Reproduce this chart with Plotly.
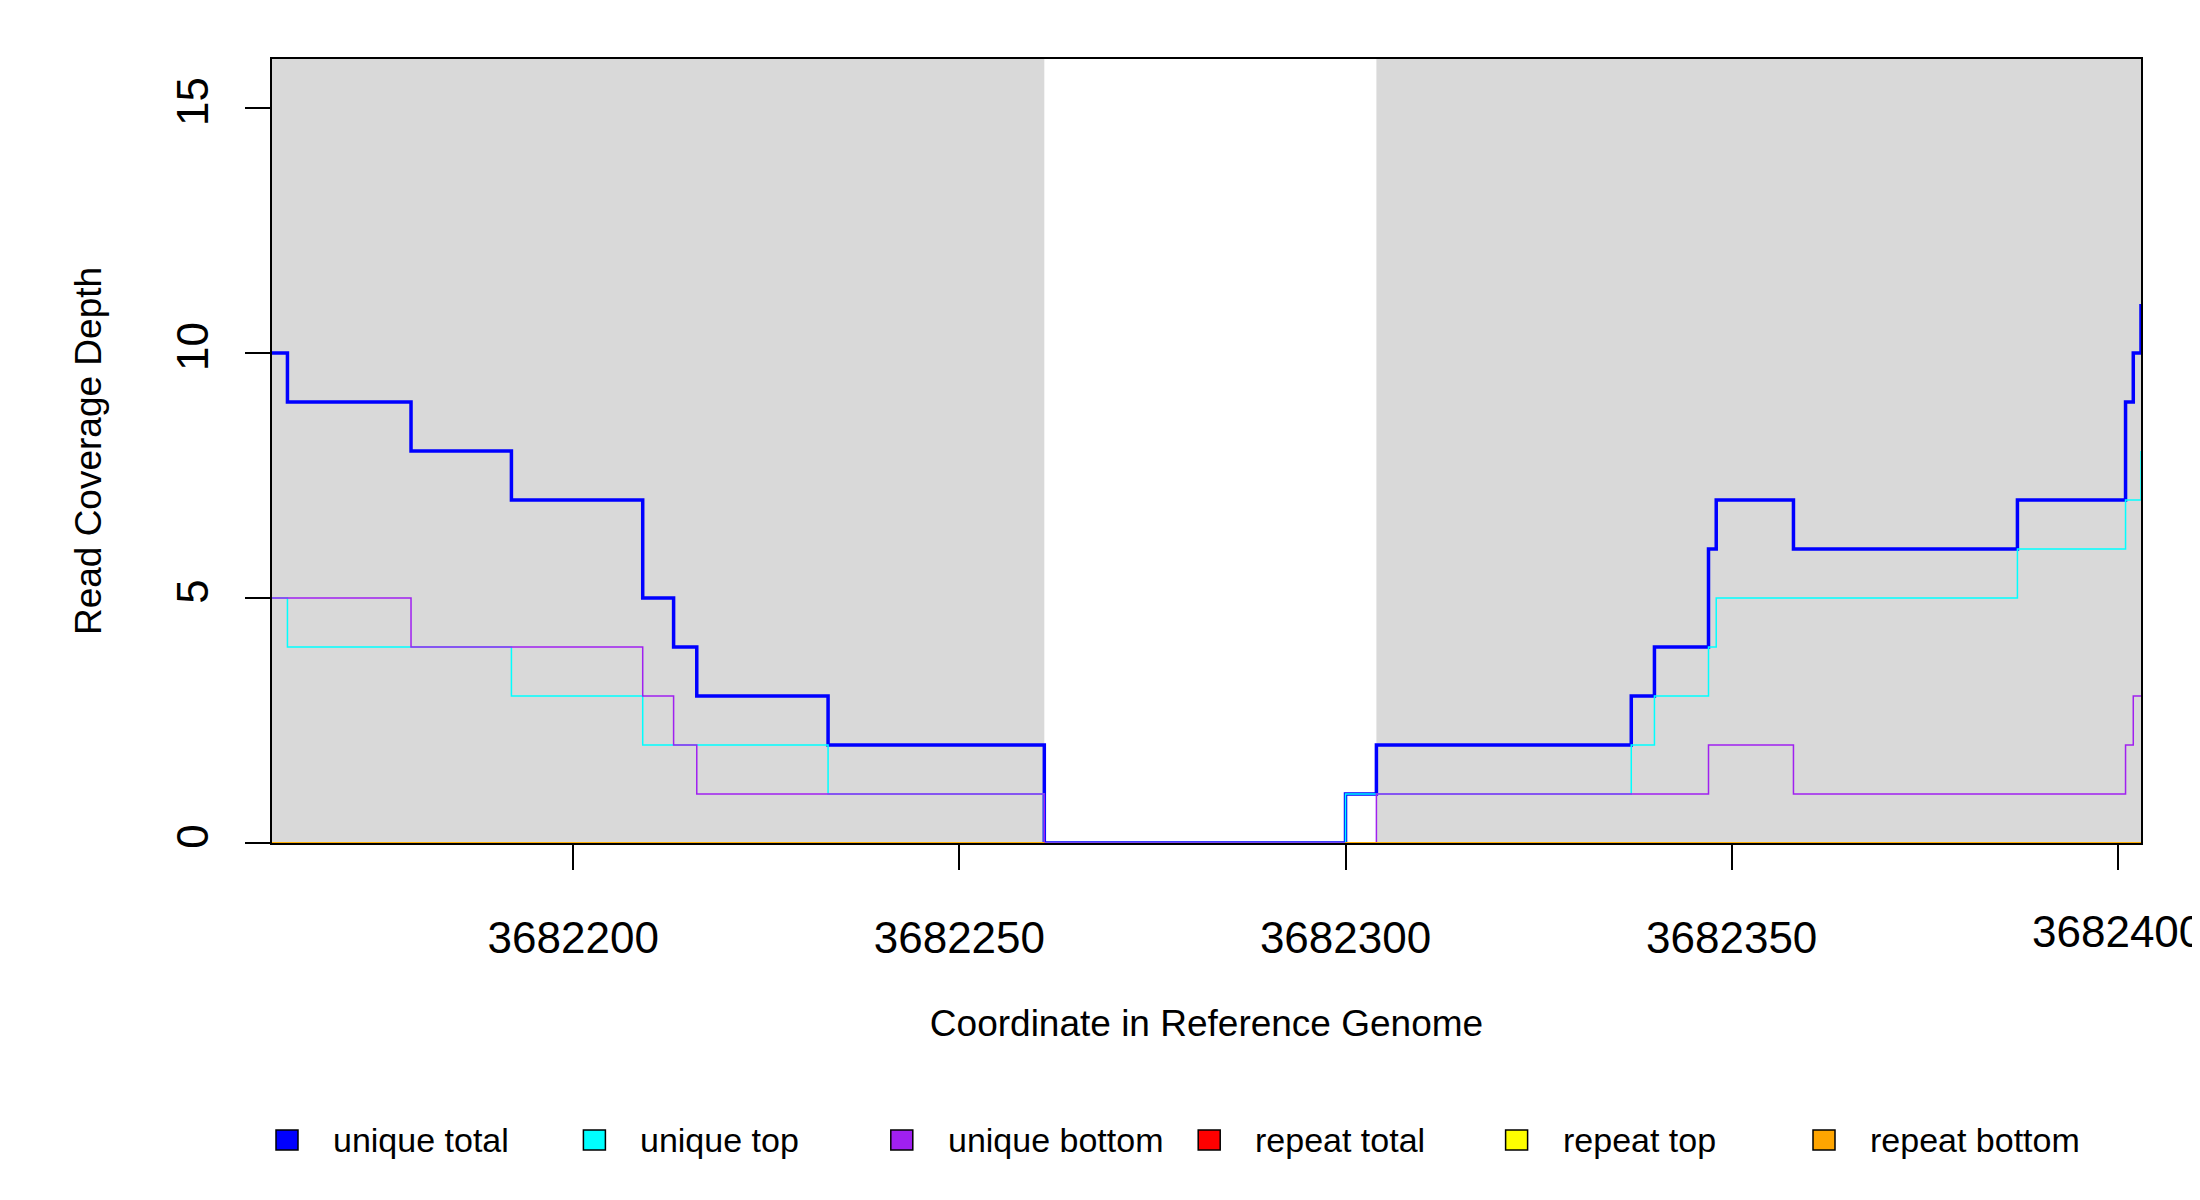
import plotly.graph_objects as go

# step change positions and depth values (value holds until next position)
ut_x = [3682161, 3682163, 3682179, 3682192, 3682209, 3682213, 3682216, 3682233, 3682261,
        3682300, 3682304, 3682337, 3682340, 3682347, 3682348, 3682358, 3682387, 3682401, 3682402, 3682403]
ut_y = [10, 9, 8, 7, 5, 4, 3, 2, 0,
        1, 2, 3, 4, 6, 7, 6, 7, 9, 10, 11]

utop_x = [3682161, 3682163, 3682192, 3682209, 3682233, 3682261,
          3682300, 3682337, 3682340, 3682347, 3682348, 3682387, 3682401, 3682403]
utop_y = [5, 4, 3, 2, 1, 0,
          1, 2, 3, 4, 5, 6, 7, 8]

ubot_x = [3682161, 3682179, 3682209, 3682213, 3682216, 3682261,
          3682304, 3682347, 3682358, 3682401, 3682402, 3682403]
ubot_y = [5, 4, 3, 2, 1, 0,
          1, 2, 1, 2, 3, 3]

rep_x = [3682161, 3682261, None, 3682300, 3682403]
rep_y = [0, 0, None, 0, 0]

shaded = [(3682161, 3682261), (3682304, 3682403)]
xticks = [3682200, 3682250, 3682300, 3682350, 3682400]

names = ["unique total", "unique top", "unique bottom", "repeat total", "repeat top", "repeat bottom"]
colors = ["#0000ff", "#00ffff", "#a020f0", "#ff0000", "#ffff00", "#ffa500"]

FONT = "Liberation Sans, Arial, sans-serif"
L, R, T, B = 264, 67, 51, 365
PW = 2200 - L - R
PH = 1200 - T - B

fig = go.Figure()
series = [(ut_x, ut_y, 3.5), (utop_x, utop_y, 1.5), (ubot_x, ubot_y, 1.5),
          (rep_x, rep_y, 1.5), (rep_x, rep_y, 1.5), (rep_x, rep_y, 1.5)]
for (xs, ys, w), c in zip(series, colors):
    fig.add_trace(go.Scatter(x=xs, y=ys, mode="lines", line=dict(color=c, width=w, shape="hv"),
                             showlegend=False, hoverinfo="skip"))

for x0, x1 in shaded:
    fig.add_shape(type="rect", x0=x0, x1=x1, y0=0, y1=16, xref="x", yref="y",
                  fillcolor="#d9d9d9", line_width=0, layer="below")

# hand-made legend row under the plot
leg_y = (1200 - B - 1132) / PH
for i, (n, c) in enumerate(zip(names, colors)):
    bx = (279 + i * 307.4 - L) / PW
    fig.add_shape(type="rect", xref="paper", yref="paper", xsizemode="pixel", ysizemode="pixel",
                  xanchor=bx, yanchor=leg_y, x0=-11, x1=11, y0=-10, y1=10,
                  fillcolor=c, line=dict(color="black", width=1.5))
    fig.add_annotation(x=bx + 44 / PW, y=leg_y, xref="paper", yref="paper", text=n,
                       showarrow=False, xanchor="left", yanchor="middle", font=dict(size=34))

# last tick label runs past the figure edge in the original
fig.add_annotation(x=xticks[-1], y=-(923 - (1200 - B)) / PH, xref="x", yref="paper",
                   text=str(xticks[-1]), showarrow=False, xanchor="center", yanchor="middle",
                   font=dict(size=44))

fig.update_layout(
    width=2200, height=1200,
    margin=dict(l=L, r=R, t=T, b=B),
    plot_bgcolor="white", paper_bgcolor="white",
    font=dict(family=FONT, size=44, color="black"),
    showlegend=False,
)
fig.update_xaxes(range=[3682161, 3682403], tickvals=xticks[:-1] + [xticks[-1]],
                 ticktext=[str(v) for v in xticks[:-1]] + [""],
                 ticks="outside", ticklen=25, tickwidth=1.5, tickcolor="black",
                 ticklabelstandoff=30, showgrid=False, zeroline=False,
                 showline=True, linecolor="black", linewidth=1.5, mirror=True,
                 title=dict(text="Coordinate in Reference Genome", standoff=50, font=dict(size=37)))
fig.update_yaxes(range=[0, 16], tickvals=[0, 5, 10, 15], tickangle=-90,
                 ticks="outside", ticklen=25, tickwidth=1.5, tickcolor="black",
                 ticklabelstandoff=20, showgrid=False, zeroline=False,
                 showline=True, linecolor="black", linewidth=1.5, mirror=True,
                 title=dict(text="Read Coverage Depth", standoff=55, font=dict(size=37)))

fig.write_html("out.html")
